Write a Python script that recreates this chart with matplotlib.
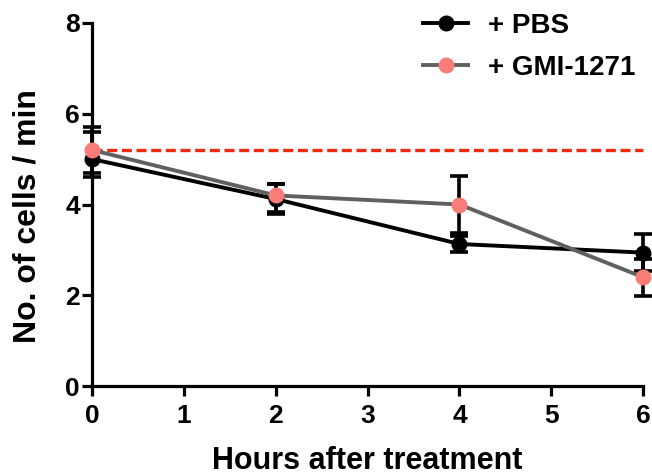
import matplotlib
matplotlib.use("Agg")
import matplotlib.pyplot as plt
from matplotlib.lines import Line2D

plt.rcParams['font.family'] = ['Liberation Sans', 'DejaVu Sans']
plt.rcParams['font.weight'] = 'bold'

hours = [0, 2, 4, 6]
pbs = [5.0, 4.12, 3.13, 2.94]
pbs_err_low = [0.40, 0.33, 0.18, 0.41]
pbs_err_high = [0.60, 0.33, 0.18, 0.41]
gmi = [5.2, 4.2, 4.0, 2.4]
gmi_err_low = [0.50, 0.36, 0.62, 0.42]
gmi_err_high = [0.50, 0.26, 0.62, 0.41]
baseline = 5.2
series_labels = ['+ PBS', '+ GMI-1271']

pink = '#f87c78'
gray = '#606060'

fig = plt.figure(figsize=(6.52, 4.76), dpi=100)
ax = fig.add_axes([0.1416, 0.189, 0.8446, 0.7627])

ax.plot([0, 6], [baseline, baseline], linestyle=(0, (3.0, 1.4)), color='#ee2a10',
        linewidth=2.4, zorder=1, clip_on=False)

ax.errorbar(hours, pbs, yerr=[pbs_err_low, pbs_err_high], color='black', linewidth=2.8,
            marker='o', markersize=10.5, capsize=6.5, capthick=2.6, elinewidth=2.6,
            zorder=3, clip_on=False)
ax.errorbar(hours, gmi, yerr=[gmi_err_low, gmi_err_high], color=gray, linewidth=2.8,
            marker='o', markersize=10.5, markerfacecolor=pink, markeredgecolor=pink,
            ecolor='black', capsize=6.5, capthick=2.6, elinewidth=2.6,
            zorder=4, clip_on=False)

ax.set_xlim(0, 6)
ax.set_ylim(0, 8)
ax.set_xticks(range(0, 7))
ax.set_yticks([0, 2, 4, 6, 8])
for s in ['top', 'right']:
    ax.spines[s].set_visible(False)
for s in ['left', 'bottom']:
    ax.spines[s].set_linewidth(2.3)
ax.tick_params(axis='both', direction='out', length=7, width=2.3, labelsize=19)
ax.tick_params(axis='x', pad=6)
ax.tick_params(axis='y', pad=2)
for lab in ax.get_xticklabels() + ax.get_yticklabels():
    lab.set_fontweight('bold')

ax.set_xlabel('Hours after treatment', fontsize=22, fontweight='bold', labelpad=13)
ax.set_ylabel('No. of cells / min', fontsize=23, fontweight='bold')
ax.yaxis.set_label_coords(-0.09, 0.468)

handles = [
    Line2D([], [], color='black', linewidth=2.8, marker='o', markersize=10.5),
    Line2D([], [], color=gray, linewidth=2.8, marker='o', markersize=10.5,
           markerfacecolor=pink, markeredgecolor=pink),
]
leg = fig.legend(handles, series_labels, loc='upper left', bbox_to_anchor=(0.6488, 0.973),
                 frameon=False, fontsize=20, handlelength=1.62, handletextpad=0.72,
                 labelspacing=0.58, borderpad=0, borderaxespad=0)
for t in leg.get_texts():
    t.set_fontweight('bold')

fig.savefig('out.png', dpi=100)
